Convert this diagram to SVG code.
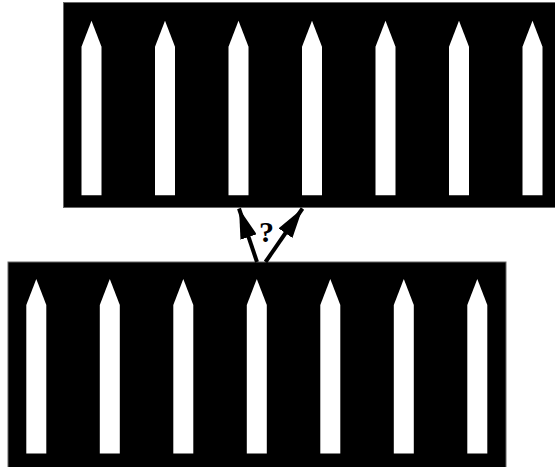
<svg xmlns="http://www.w3.org/2000/svg" xmlns:xlink="http://www.w3.org/1999/xlink" width="555" height="467" viewBox="0 0 555 467">
  <style>
    .panel { fill: #000; stroke: #666; stroke-width: 1; }
    .pencil { fill: #fff; }
    .conn { stroke: #000; stroke-width: 4; fill: none; marker-end: url(#head); }
    .lbl { font-family: "Liberation Serif", "Times New Roman", serif; font-weight: bold; font-size: 30px; fill: #000; text-anchor: middle; }
  </style>
  <defs>
    <path id="pencil" class="pencil" d="M-10,26 L0,0 L10,26 L10,174.5 L-10,174.5 Z"/>
    <marker id="head" viewBox="0 0 30 17" markerUnits="userSpaceOnUse" markerWidth="30" markerHeight="17" refX="30" refY="8.5" orient="auto">
      <path d="M0,0 L30,8.5 L0,17 Z" fill="#000"/>
    </marker>
  </defs>
  <rect width="555" height="467" fill="#fff"/>
  <g id="top-panel">
    <rect class="panel" x="63.5" y="2.5" width="500" height="205"/>
    <use xlink:href="#pencil" transform="translate(91.5,20.7)"/>
    <use xlink:href="#pencil" transform="translate(165,20.7)"/>
    <use xlink:href="#pencil" transform="translate(238.5,20.7)"/>
    <use xlink:href="#pencil" transform="translate(312,20.7)"/>
    <use xlink:href="#pencil" transform="translate(385.5,20.7)"/>
    <use xlink:href="#pencil" transform="translate(459,20.7)"/>
    <use xlink:href="#pencil" transform="translate(532.5,20.7)"/>
  </g>
  <g id="bottom-panel">
    <rect class="panel" x="8" y="262" width="498" height="215"/>
    <use xlink:href="#pencil" transform="translate(36.3,279)"/>
    <use xlink:href="#pencil" transform="translate(109.8,279)"/>
    <use xlink:href="#pencil" transform="translate(183.3,279)"/>
    <use xlink:href="#pencil" transform="translate(256.8,279)"/>
    <use xlink:href="#pencil" transform="translate(330.3,279)"/>
    <use xlink:href="#pencil" transform="translate(403.8,279)"/>
    <use xlink:href="#pencil" transform="translate(477.3,279)"/>
  </g>
  <g id="connectors">
    <line class="conn" x1="257" y1="262" x2="239" y2="208.5"/>
    <line class="conn" x1="265.5" y1="262" x2="302.5" y2="208.5"/>
    <text class="lbl" x="266.5" y="242">?</text>
  </g>
</svg>
